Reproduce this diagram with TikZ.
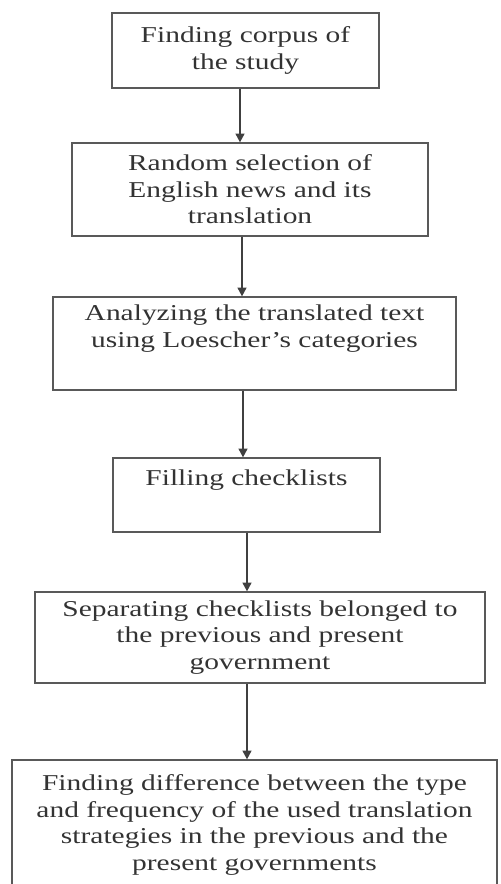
\documentclass[tikz,border=0pt]{standalone}
\usepackage{fontspec}
\setmainfont{Liberation Serif}[FakeStretch=1.3]
\usepackage{tikz}
\usetikzlibrary{arrows.meta, positioning}

\tikzset{
  stepbox/.style={draw=black!65, line width=0.7pt, text=black!80, align=center,
    inner sep=0pt, font=\fontsize{12.9}{15.1}\selectfont},
  flow/.style={draw=black!75, line width=1.1pt, -{Triangle[length=5pt,width=5pt]}}
}

\begin{document}
\begin{tikzpicture}[x=0.02cm, y=-0.02cm]
				\useasboundingbox (0,0) rectangle (500,884);
				\node[stepbox, minimum width=5.34cm, minimum height=1.5cm] (corpus) at (245.5,50.5) {Finding corpus of\\the study};
				\node[stepbox, minimum width=7.12cm, minimum height=1.86cm] (select) at (250,189.5) {Random selection of\\English news and its\\translation};
				\node[stepbox, minimum width=8.06cm, minimum height=1.86cm] (analyze) at (254.5,343.5) {Analyzing the translated text\\using Loescher’s categories\\\strut};
				\node[stepbox, minimum width=5.34cm, minimum height=1.48cm] (fill) at (246.5,495) {Filling checklists\\\strut};
				\node[stepbox, minimum width=9cm, minimum height=1.82cm] (separate) at (260,637.5) {Separating checklists belonged to\\the previous and present\\government};
				\node[stepbox, minimum width=9.7cm, minimum height=2.6cm] (differ) at (254.5,825) {Finding difference between the type\\and frequency of the used translation\\strategies in the previous and the\\present governments};
				\foreach \a/\b/\x in {corpus/select/240, select/analyze/242, analyze/fill/243, fill/separate/247, separate/differ/247} {
					\draw[flow] (\a.south -| \x,0) -- (\b.north -| \x,0);
				}
			\end{tikzpicture}
\end{document}
